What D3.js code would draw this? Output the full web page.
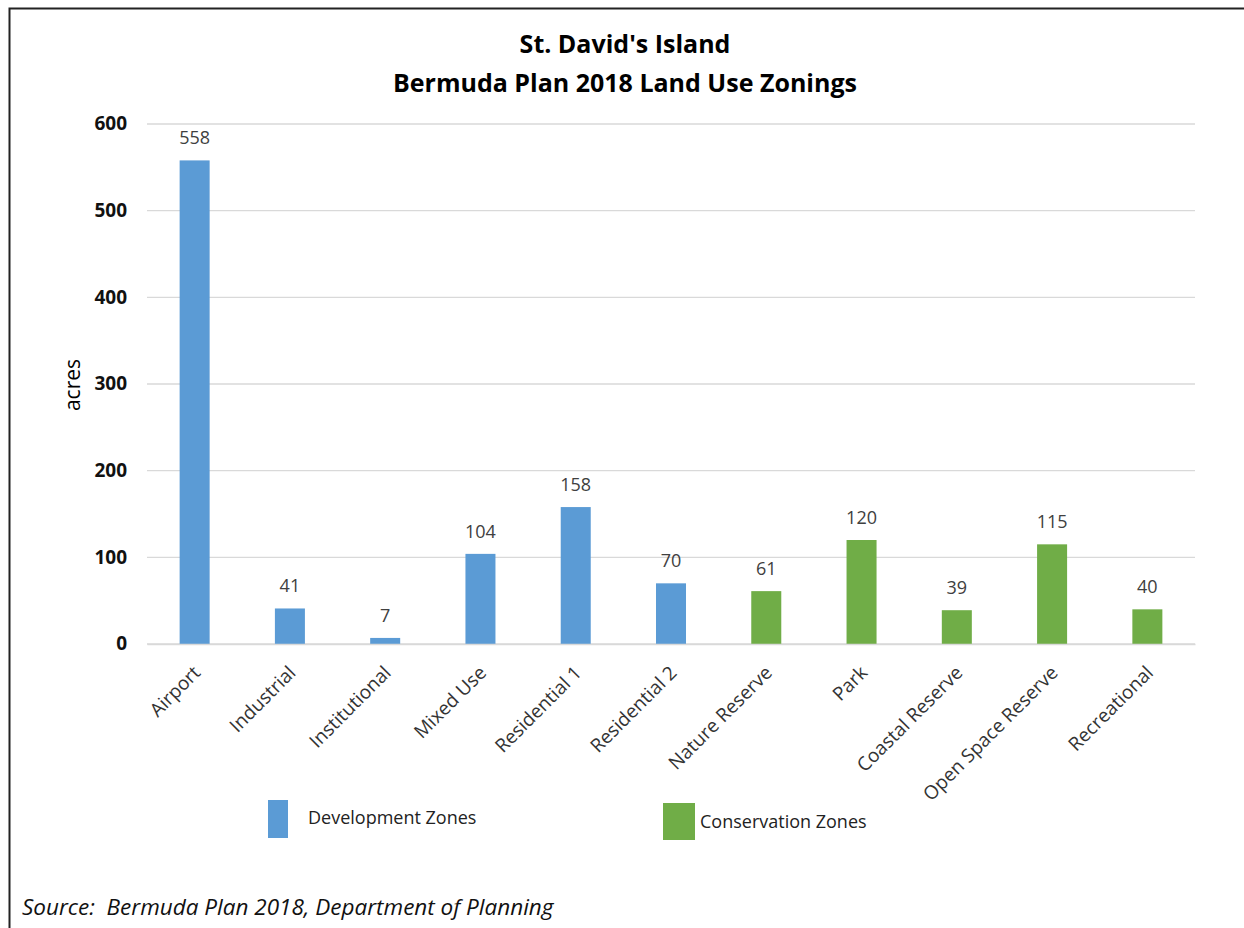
<!DOCTYPE html>
<html><head><meta charset="utf-8">
<script src="https://cdn.jsdelivr.net/npm/d3@7"></script>
<style>
body{margin:0;background:#fff;}
svg{display:block;font-family:"Open Sans",sans-serif;}
text{white-space:pre;}
</style></head>
<body>
<svg id="chart" width="1244" height="928"></svg>
<script>
const categories = ["Airport","Industrial","Institutional","Mixed Use","Residential 1","Residential 2","Nature Reserve","Park","Coastal Reserve","Open Space Reserve","Recreational"];
const values = [558,41,7,104,158,70,61,120,39,115,40];
const zoneTypes = ["Development Zones","Development Zones","Development Zones","Development Zones","Development Zones","Development Zones","Conservation Zones","Conservation Zones","Conservation Zones","Conservation Zones","Conservation Zones"];
const legendLabels = ["Development Zones","Conservation Zones"];
const yTicks = [0,100,200,300,400,500,600];
const titleLines = ["St. David's Island","Bermuda Plan 2018 Land Use Zonings"];
const yLabel = "acres";
const sourceText = "Source:  Bermuda Plan 2018, Department of Planning";

const svg = d3.select("#chart");
const color = d3.scaleOrdinal().domain(legendLabels).range(["#5B9BD5","#70AD47"]);

// frame
svg.append("rect").attr("x",9.5).attr("y",8.5).attr("width",1300).attr("height",1000)
  .attr("fill","none").attr("stroke","#222").attr("stroke-width",2);

const x = d3.scaleBand().domain(categories).range([147,1195]).paddingInner(0.685).paddingOuter(0.3425);
const y = d3.scaleLinear().domain([0,600]).range([644,124]);

// gridlines
svg.append("g").selectAll("line").data(yTicks).join("line")
  .attr("x1",147).attr("x2",1195).attr("y1",d=>y(d)).attr("y2",d=>y(d))
  .attr("stroke","#D9D9D9").attr("stroke-width",1.3);

// y axis labels
const yAxis = d3.axisLeft(y).tickValues(yTicks).tickSize(0).tickPadding(0);
const gy = svg.append("g").attr("transform","translate(127,0)").call(yAxis);
gy.select(".domain").remove();
gy.selectAll("text").attr("font-size",19).attr("font-weight","bold").attr("fill","#111")
  .attr("font-family","'Open Sans',sans-serif").attr("dy","0.3em");

// bars
const data = categories.map((c,i)=>({c, v:values[i], t:zoneTypes[i]}));
svg.append("g").selectAll("rect").data(data).join("rect")
  .attr("x",d=>x(d.c)).attr("width",x.bandwidth())
  .attr("y",d=>y(d.v)).attr("height",d=>y(0)-y(d.v))
  .attr("fill",d=>color(d.t));

// value labels
svg.append("g").selectAll("text").data(data).join("text")
  .attr("x",d=>x(d.c)+x.bandwidth()/2).attr("y",d=>y(d.v)-16)
  .attr("text-anchor","middle").attr("font-size",18).attr("fill","#404040")
  .text(d=>d.v);

// x labels
const xAxis = d3.axisBottom(x).tickSize(0).tickPadding(0);
const gx = svg.append("g").attr("transform","translate(0,644)").call(xAxis);
gx.select(".domain").attr("stroke","#D9D9D9").attr("stroke-width",1.3);
gx.selectAll("text")
  .attr("font-size",19).attr("fill","#333").attr("font-family","'Open Sans',sans-serif")
  .attr("text-anchor","end").attr("dy",0).attr("y",0)
  .attr("transform","translate(7,30) rotate(-45)");

// title
svg.append("g").selectAll("text").data(titleLines).join("text")
  .attr("x",625).attr("y",(d,i)=>53+i*39).attr("text-anchor","middle")
  .attr("font-size",25).attr("font-weight","bold").attr("fill","#000").text(d=>d);

// y label
svg.append("text").attr("transform","translate(80,385) rotate(-90)")
  .attr("text-anchor","middle").attr("font-size",21).attr("fill","#000").text(yLabel);

// legend
const legPos = [{x:268,y:800,w:20,h:38,tx:308,ty:824},{x:663,y:803,w:32,h:37,tx:700,ty:828}];
const lg = svg.append("g").selectAll("g").data(legendLabels).join("g");
lg.append("rect").attr("x",(d,i)=>legPos[i].x).attr("y",(d,i)=>legPos[i].y)
  .attr("width",(d,i)=>legPos[i].w).attr("height",(d,i)=>legPos[i].h).attr("fill",d=>color(d));
lg.append("text").attr("x",(d,i)=>legPos[i].tx).attr("y",(d,i)=>legPos[i].ty)
  .attr("font-size",18).attr("fill","#222").text(d=>d);

// source
svg.append("text").attr("x",22).attr("y",915).attr("font-size",22.5).attr("font-style","italic")
  .attr("fill","#111").text(sourceText);
</script>
</body></html>
